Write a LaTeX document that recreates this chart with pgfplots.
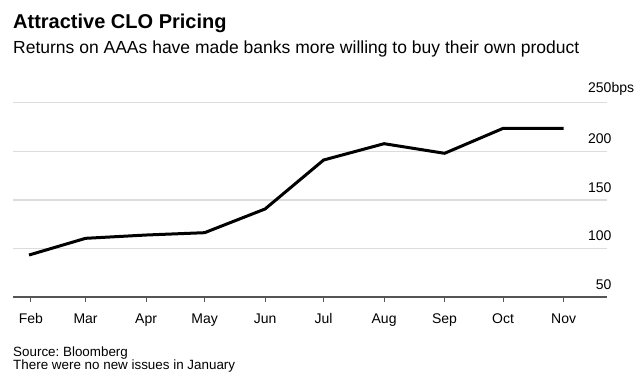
\documentclass[border=0pt]{standalone}
\usepackage{pgfplots}
\pgfplotsset{compat=1.18}
\usepackage{fontspec}
\setmainfont{Liberation Sans}
\definecolor{gridc}{HTML}{DCDCDC}
\definecolor{axc}{HTML}{555555}
\begin{document}
\frenchspacing
\begin{tikzpicture}[x=1bp,y=1bp]
\path[use as bounding box] (0,0) rectangle (643,377);
\node[anchor=base west, inner sep=0pt, font=\fontsize{20bp}{24bp}\selectfont\bfseries] at (13,349) {Attractive CLO Pricing};
\node[anchor=base west, inner sep=0pt, font=\fontsize{17.5bp}{21bp}\selectfont] at (13,324) {Returns on AAAs have made banks more willing to buy their own product};
\node[anchor=base west, inner sep=0pt, font=\fontsize{13.4bp}{16bp}\selectfont] at (13,21) {Source: Bloomberg};
\node[anchor=base west, inner sep=0pt, font=\fontsize{13.4bp}{16bp}\selectfont] at (13,8) {There were no new issues in January};
\begin{axis}[
  at={(13bp,80bp)}, anchor=south west,
  scale only axis, width=593.7bp, height=194.3bp,
  xmin=21.8, xmax=326.1, ymin=50, ymax=250,
  axis x line*=bottom, axis y line*=right,
  y axis line style={draw=none},
  x axis line style={draw=axc, line width=1.2bp},
  xtick={31,59,90,120,151,181,212,243,273,304},
  xticklabels={Feb,Mar,Apr,May,Jun,Jul,Aug,Sep,Oct,Nov},
  ytick={50,100,150,200,250},
  yticklabels={50,100,150,200,250\rlap{bps}},
  ymajorgrids, grid style={draw=gridc, line width=1.3bp},
  tick align=outside, major tick length=5bp,
  x tick style={draw=axc, line width=1bp},
  y tick style={draw=none},
  ticklabel style={font=\fontsize{14bp}{17bp}\selectfont, /pgf/number format/assume math mode=true},
  yticklabel style={anchor=south east, inner sep=0pt, xshift=0bp, yshift=7.5bp},
  xticklabel style={anchor=north, inner sep=0pt, text height=10bp, text depth=3bp, yshift=-11bp},
  clip=false,
]
\addplot[black, line width=3bp, line join=round] coordinates {
(30,93.2) (59,110.4) (90,113.8) (120,116.2) (151,140.6) (181,191) (212,207.8) (243,197.9) (273,223.6) (304,223.6)
};
\end{axis}
\end{tikzpicture}
\end{document}
